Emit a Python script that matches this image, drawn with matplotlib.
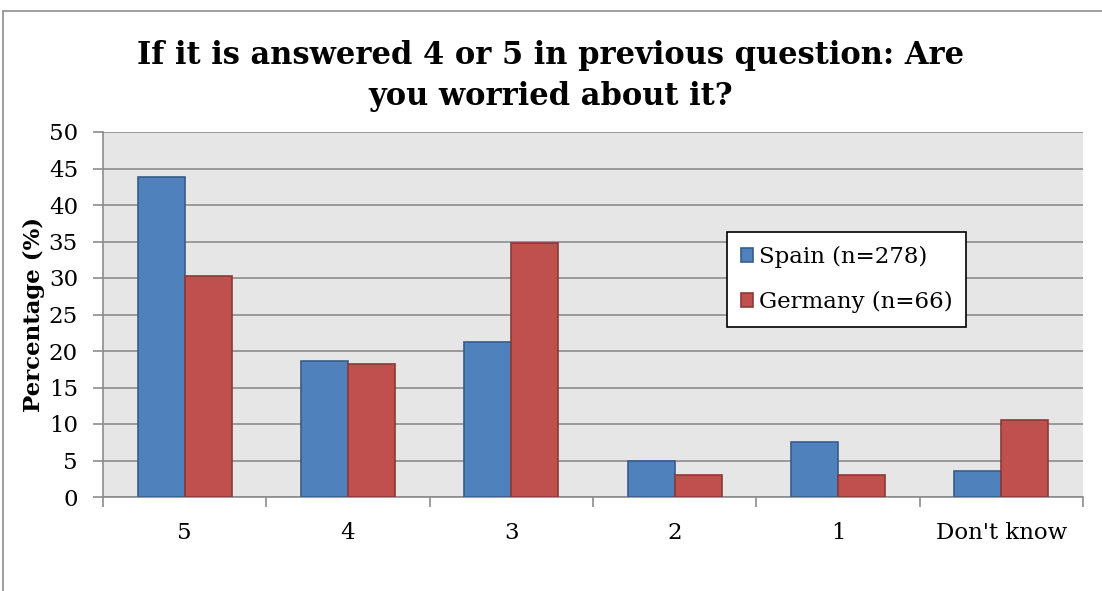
import numpy as np
import matplotlib
matplotlib.use('Agg')
import matplotlib.pyplot as plt
from matplotlib.patches import Rectangle

plt.rcParams['font.family'] = ['DejaVu Serif']

categories = ['5', '4', '3', '2', '1', "Don't know"]
spain = [43.8, 18.6, 21.2, 5.0, 7.5, 3.6]
germany = [30.3, 18.2, 34.8, 3.0, 3.0, 10.6]
series_names = ['Spain (n=278)', 'Germany (n=66)']

fig = plt.figure(figsize=(11.02, 5.91), dpi=100)
fig.patches.append(Rectangle((3 / 1102, -0.1), 1.2, 1 - 11 / 591 + 0.1,
                             transform=fig.transFigure, fill=False,
                             edgecolor='#8c8c8c', linewidth=1.2))

ax = fig.add_axes([103 / 1102, 1 - 497 / 591, 980 / 1102, 365 / 591])
ax.set_facecolor('#e6e6e6')

x = np.arange(len(categories))
w = 0.288
ax.bar(x - w / 2, spain, w, color='#4f81bd', edgecolor='#385d8a', linewidth=1.2,
       label=series_names[0], zorder=3)
ax.bar(x + w / 2, germany, w, color='#c0504d', edgecolor='#8c3836', linewidth=1.2,
       label=series_names[1], zorder=3)

ax.set_xlim(-0.5, len(categories) - 0.5)
ax.set_ylim(0, 50)
ax.set_yticks(range(0, 51, 5))
ax.yaxis.grid(True, color='#8c8c8c', linewidth=1.2, zorder=1)
ax.set_axisbelow(True)

ax.set_xticks(x)
ax.set_xticklabels(categories, fontsize=16.5)
ax.tick_params(axis='x', length=0, pad=18)
ax.set_xticks(np.arange(-0.5, len(categories), 1), minor=True)
ax.tick_params(axis='x', which='minor', length=7, color='#8c8c8c', width=1.2, direction='out')
ax.tick_params(axis='y', labelsize=16.5, length=7, color='#8c8c8c', width=1.2, pad=11)

for s in ['top', 'right']:
    ax.spines[s].set_visible(False)
for s in ['left', 'bottom']:
    ax.spines[s].set_color('#8c8c8c')
    ax.spines[s].set_linewidth(1.2)

ax.set_ylabel('Percentage (%)', fontsize=16.5, fontweight='bold', labelpad=3)

leg = ax.legend(loc='upper left', bbox_to_anchor=((727 - 103) / 980, (497 - 232) / 365),
                fontsize=16.5, frameon=True, fancybox=False, edgecolor='black',
                handlelength=0.55, handleheight=0.55, handletextpad=0.25,
                labelspacing=1.0, borderpad=0.6, borderaxespad=0, framealpha=1)
leg.get_frame().set_linewidth(1.2)

fig.text(0.5, 1 - 76 / 591, 'If it is answered 4 or 5 in previous question: Are\nyou worried about it?',
         ha='center', va='center', fontsize=22, fontweight='bold', linespacing=1.4)

fig.savefig('out.png', dpi=100)
